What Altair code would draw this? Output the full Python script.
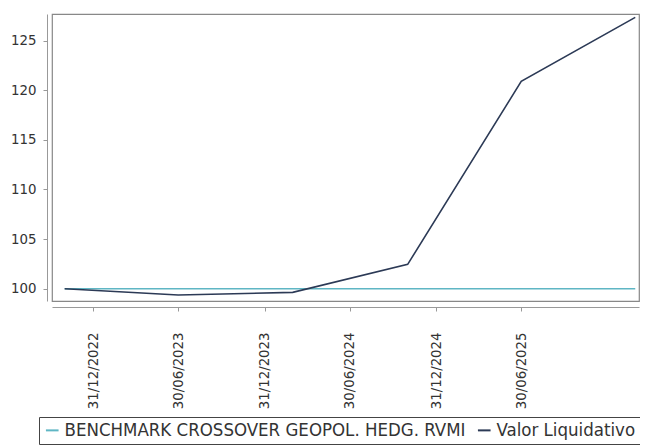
import altair as alt
import pandas as pd

dates = ["2022-10-31", "2023-06-30", "2024-02-29", "2024-10-31", "2025-06-30", "2026-02-28"]
valor = [100.0, 99.36, 99.63, 102.45, 120.9, 127.35]
bench = [100.0, 100.0, 100.0, 100.0, 100.0, 100.0]
series_names = ["BENCHMARK CROSSOVER GEOPOL. HEDG. RVMI", "Valor Liquidativo"]
series_colors = ["#5fb6c4", "#2c3a56"]
x_ticks = [(2022, 12, 31), (2023, 6, 30), (2023, 12, 31), (2024, 6, 30), (2024, 12, 31), (2025, 6, 30)]
y_ticks = [100, 105, 110, 115, 120, 125]

rows = []
for d, v in zip(dates, bench):
    rows.append({"date": d, "value": v, "serie": series_names[0]})
for d, v in zip(dates, valor):
    rows.append({"date": d, "value": v, "serie": series_names[1]})
df = pd.DataFrame(rows)

FONT = "DejaVu Sans Condensed"

x_enc = alt.X(
    "date:T",
    scale=alt.Scale(
        type="utc",
        domain=[alt.DateTime(year=2022, month=10, date=4, utc=True),
                alt.DateTime(year=2026, month=3, date=8, utc=True)],
    ),
    axis=alt.Axis(
        title=None,
        values=[alt.DateTime(year=y, month=m, date=d, utc=True) for (y, m, d) in x_ticks],
        labelExpr="utcFormat(datum.value, '%d/%m/%Y')",
        labelAngle=270,
        labelPadding=21,
        labelFontSize=14.8,
        offset=6,
        tickSize=4,
        grid=False,
    ),
)
y_enc = alt.Y(
    "value:Q",
    scale=alt.Scale(domain=[98.76, 127.69], nice=False, zero=False),
    axis=alt.Axis(title=None, values=y_ticks, offset=5, tickSize=4, labelPadding=7, grid=False),
)

chart = alt.Chart(df).mark_line(strokeWidth=1.6).encode(
    x=x_enc,
    y=y_enc,
    color=alt.Color(
        "serie:N",
        scale=alt.Scale(domain=series_names, range=series_colors),
        legend=alt.Legend(
            title=None,
            orient="none",
            legendX=-13,
            legendY=403,
            direction="horizontal",
            symbolType="stroke",
            symbolStrokeWidth=2,
            symbolSize=160,
            labelFontSize=18.5,
            labelFont=FONT,
            labelColor="#333",
            labelLimit=1000,
            strokeColor="#444",
            padding=4,
            columnPadding=7,
            labelOffset=3,
        ),
    ),
).properties(
    width=587,
    height=287,
    autosize=alt.AutoSizeParams(type="none"),
    padding={"left": 44, "top": 6, "right": 1, "bottom": 146},
).configure_view(
    stroke="#888", strokeWidth=1.2
).configure_axis(
    labelFont=FONT, labelFontSize=14.8, labelColor="#333",
    domainColor="#999", tickColor="#999",
)

chart.save("out.html", embed_options={"renderer": "svg", "actions": False})
